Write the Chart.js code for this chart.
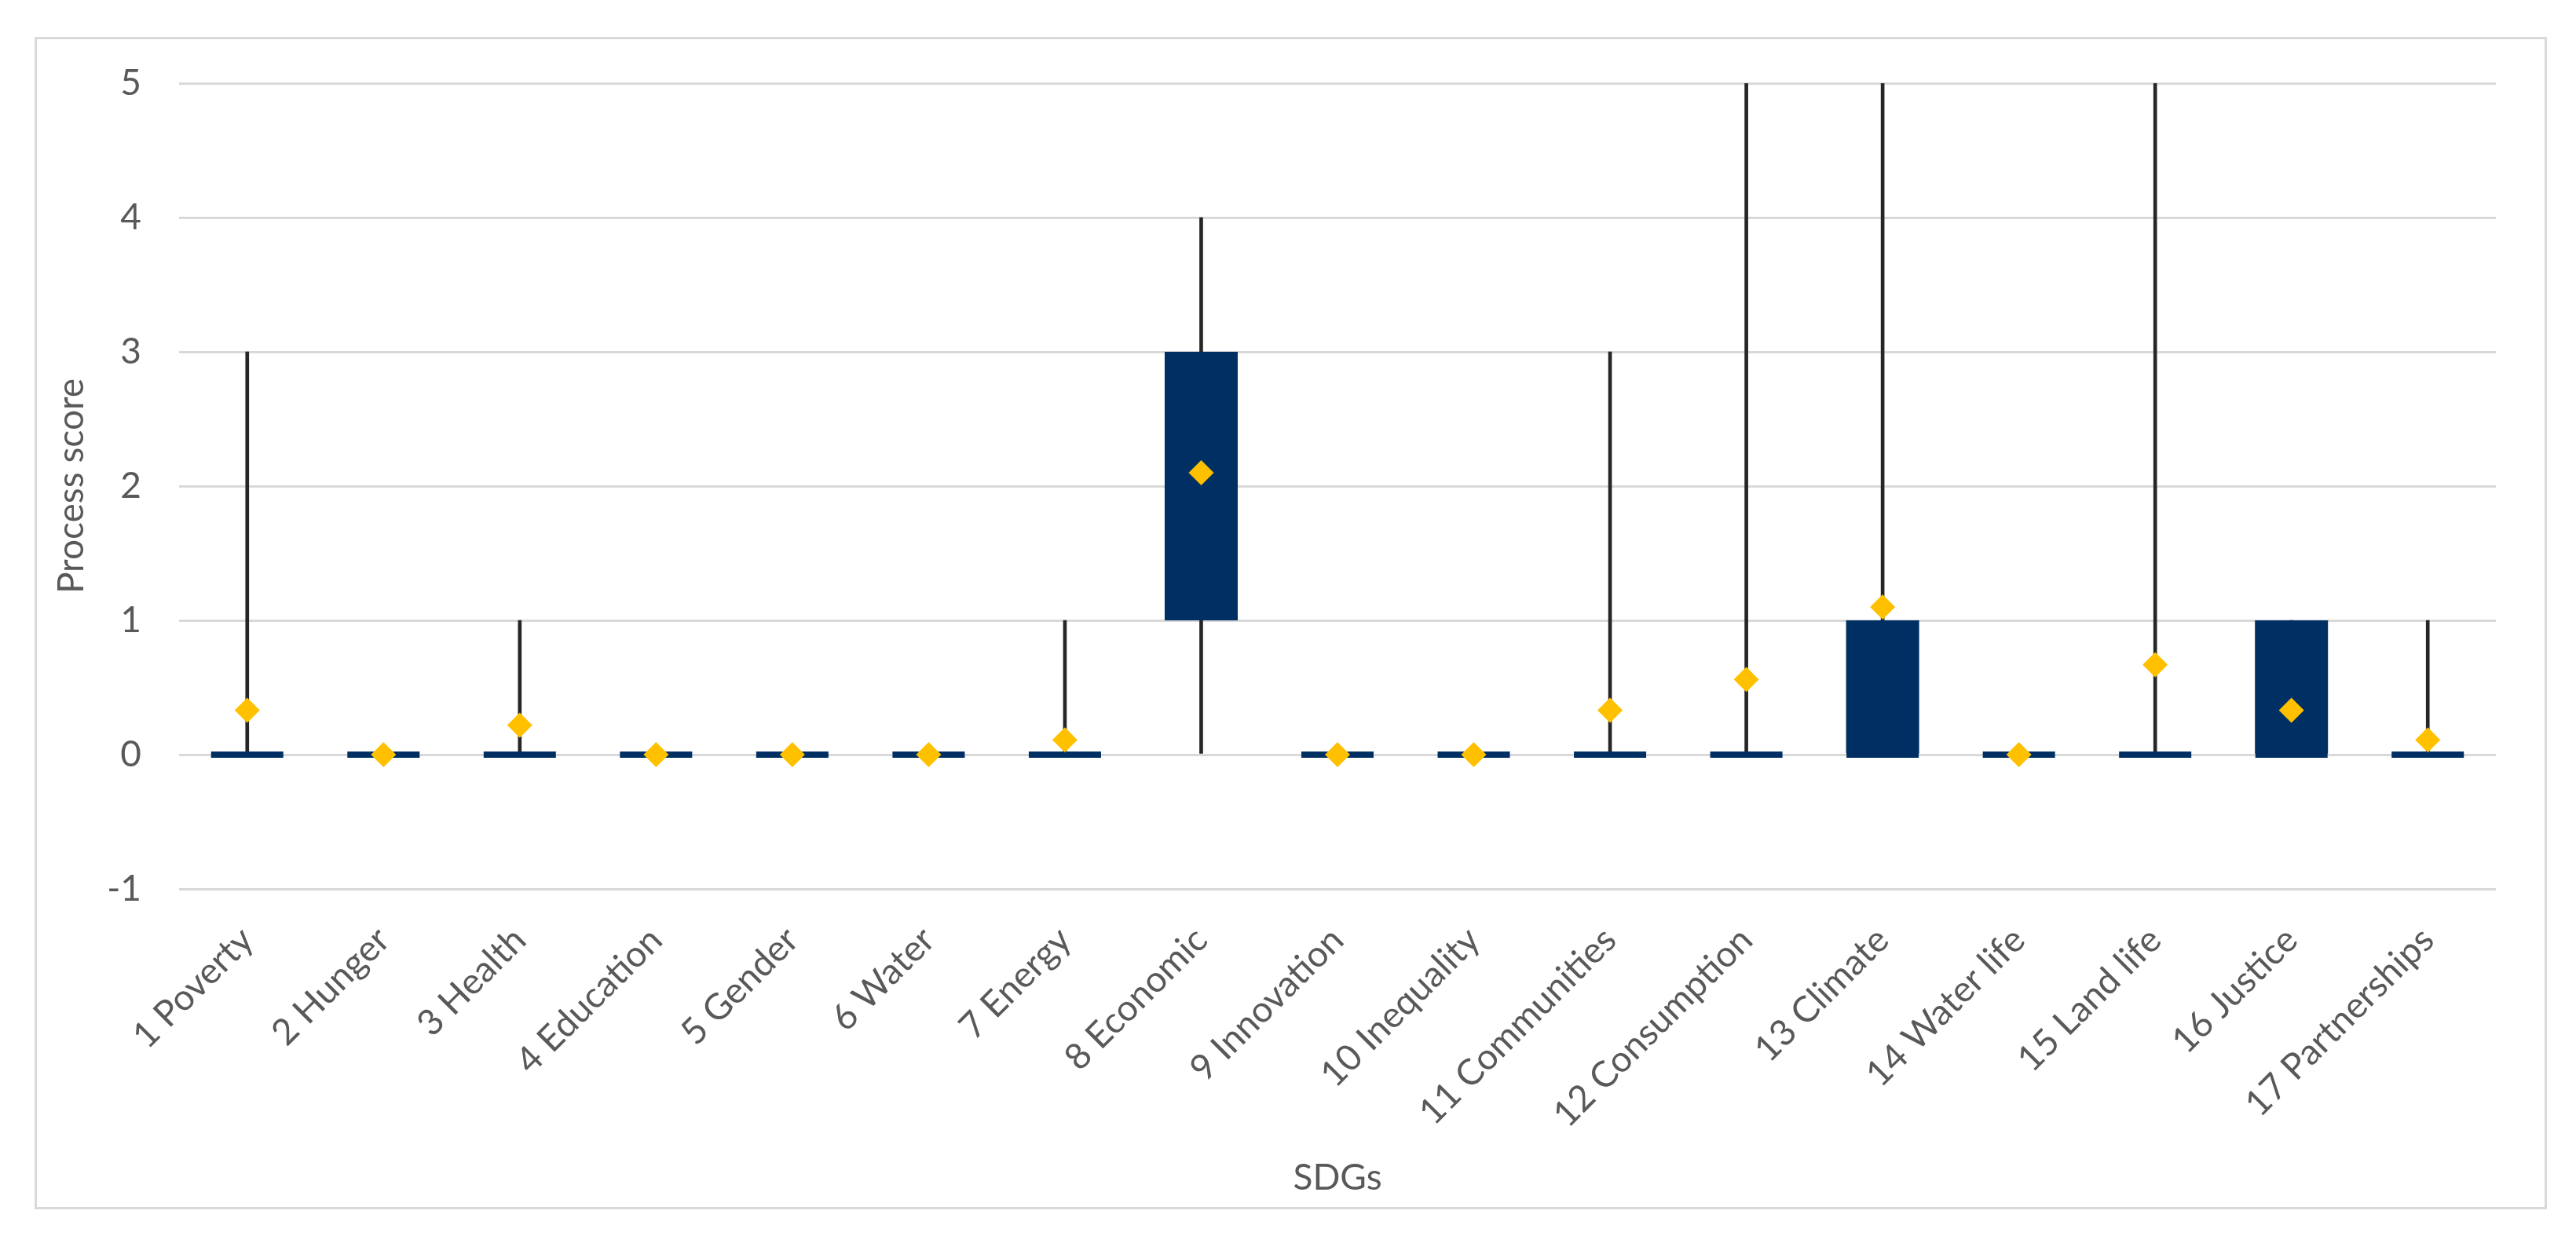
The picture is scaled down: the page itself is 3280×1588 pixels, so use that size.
<!DOCTYPE html>
<html>
<head>
<meta charset="utf-8">
<title>Process score by SDG</title>
<script src="https://cdn.jsdelivr.net/npm/chart.js@4.4.1/dist/chart.umd.min.js"></script>
<style>
  html, body { margin: 0; padding: 0; background: #fff; }
  #wrap { position: relative; width: 3280px; height: 1588px; }
  #frame { position: absolute; left: 44px; top: 47px; width: 3193px; height: 1487px; border: 3px solid #d9d9d9; }
  #chart { position: absolute; left: 0; top: 0; }
</style>
</head>
<body>
<div id="wrap">
  <div id="frame"></div>
  <canvas id="chart" width="3280" height="1588"></canvas>
</div>
<script>
// Categories
const sdgs = ['1 Poverty', '2 Hunger', '3 Health', '4 Education', '5 Gender', '6 Water',
  '7 Energy', '8 Economic', '9 Innovation', '10 Inequality', '11 Communities',
  '12 Consumption', '13 Climate', '14 Water life', '15 Land life', '16 Justice', '17 Partnerships'];

// Box plot statistics per SDG
const minVals    = [0, 0, 0, 0, 0, 0, 0, 0, 0, 0, 0, 0, 0, 0, 0, 0, 0];
const q1Vals     = [0, 0, 0, 0, 0, 0, 0, 1, 0, 0, 0, 0, 0, 0, 0, 0, 0];
const medianVals = [0, 0, 0, 0, 0, 0, 0, 2, 0, 0, 0, 0, 0, 0, 0, 0, 0];
const q3Vals     = [0, 0, 0, 0, 0, 0, 0, 3, 0, 0, 0, 0, 1, 0, 0, 1, 0];
const maxVals    = [3, 0, 1, 0, 0, 0, 1, 4, 0, 0, 3, 5, 5, 0, 5, 1, 1];
const meanVals   = [0.33, 0, 0.22, 0, 0, 0, 0.11, 2.1, 0, 0, 0.33, 0.56, 1.1, 0, 0.67, 0.33, 0.11];

// Y axis ticks
const yTicks = [-1, 0, 1, 2, 3, 4, 5];

const navy = '#003063';
const gold = '#ffc000';
const textGrey = '#595959';

Chart.defaults.font.family = 'Lato, "Open Sans", sans-serif';
Chart.defaults.font.size = 46;
Chart.defaults.color = textGrey;

const ctx = document.getElementById('chart').getContext('2d');
const chart = new Chart(ctx, {
  data: {
    labels: sdgs,
    datasets: [
      {
        type: 'line',
        label: 'Mean',
        data: meanVals,
        showLine: false,
        pointStyle: 'rectRot',
        pointRadius: 16,
        pointBorderWidth: 0,
        pointBackgroundColor: gold,
        order: 1
      },
      {
        type: 'line',
        label: 'Median',
        data: medianVals,
        showLine: false,
        pointStyle: 'line',
        pointRadius: 46,
        pointBorderWidth: 8,
        pointBorderColor: navy,
        order: 2
      },
      {
        type: 'bar',
        label: 'Box',
        data: sdgs.map((_, i) => [q1Vals[i], q3Vals[i]]),
        backgroundColor: navy,
        grouped: false,
        categoryPercentage: 1,
        barPercentage: 0.536,
        order: 3
      },
      {
        type: 'bar',
        label: 'Whisker',
        data: sdgs.map((_, i) => [minVals[i], maxVals[i]]),
        backgroundColor: '#262626',
        grouped: false,
        barThickness: 4,
        order: 4
      }
    ]
  },
  options: {
    responsive: false,
    animation: false,
    layout: { padding: { top: 106, right: 102, bottom: 48, left: 0 } },
    plugins: {
      legend: { display: false },
      tooltip: { enabled: false }
    },
    scales: {
      x: {
        type: 'category',
        offset: true,
        grid: { display: false },
        border: { display: false },
        ticks: {
          autoSkip: false,
          minRotation: 45,
          maxRotation: 45,
          padding: 30,
          color: textGrey
        },
        title: {
          display: true,
          text: 'SDGs',
          color: textGrey,
          padding: { top: 0, bottom: 12 }
        },
        afterFit: (scale) => { scale.height = 408; }
      },
      y: {
        min: yTicks[0],
        max: yTicks[yTicks.length - 1],
        afterBuildTicks: (scale) => { scale.ticks = yTicks.map(v => ({ value: v })); },
        grid: { color: '#d9d9d9', lineWidth: 3, drawTicks: false },
        border: { display: false },
        ticks: { padding: 48, color: textGrey },
        title: {
          display: true,
          text: 'Process score',
          color: textGrey,
          padding: { top: 64, bottom: 0 }
        },
        afterFit: (scale) => { scale.width = 228; }
      }
    }
  }
});
</script>
</body>
</html>
